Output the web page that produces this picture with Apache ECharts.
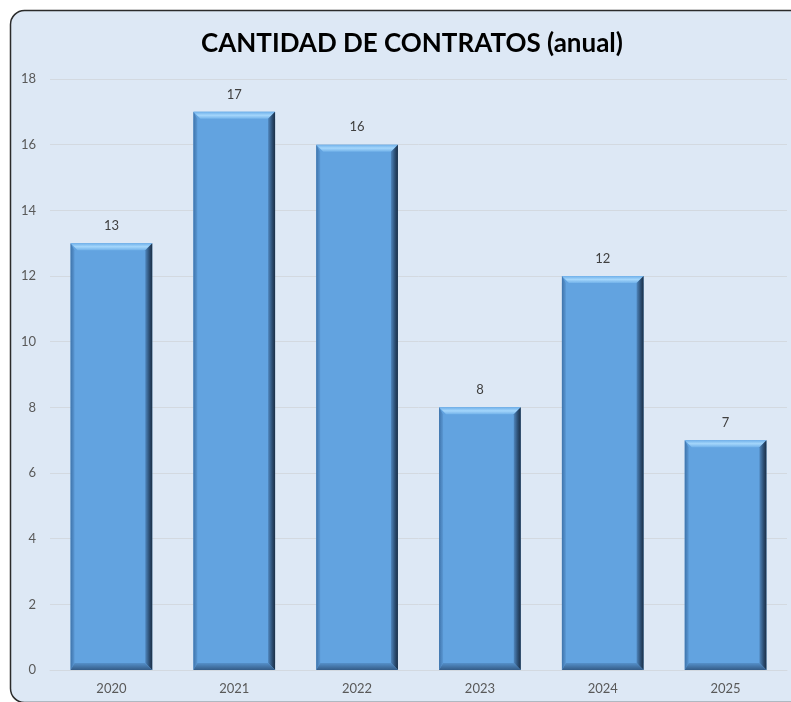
<!DOCTYPE html>
<html>
<head>
<meta charset="utf-8">
<script src="https://cdn.jsdelivr.net/npm/echarts@6/dist/echarts.min.js"></script>
<style>
  html, body { margin: 0; padding: 0; background: #ffffff; }
  #chart { width: 791px; height: 702px; }
</style>
</head>
<body>
<div id="chart"></div>
<script>
const years = ['2020', '2021', '2022', '2023', '2024', '2025']
const contratos = [13, 17, 16, 8, 12, 7]
const yTicks = { min: 0, max: 18, interval: 2 }

const myChart = echarts.init(document.getElementById('chart'))

// barra con efecto biselado (como Excel)
function renderBar (params, api) {
  const idx = api.value(0)
  const val = api.value(1)
  const top = api.coord([idx, val])
  const base = api.coord([idx, 0])
  const w = api.size([1, 0])[0] * 0.665
  const x0 = top[0] - w / 2
  const x1 = top[0] + w / 2
  const y0 = top[1]
  const y1 = base[1]
  const b = 7
  return {
    type: 'group',
    children: [
      { type: 'rect', shape: { x: x0, y: y0, width: w, height: y1 - y0 }, style: { fill: '#62a3e0' } },
      // arriba
      { type: 'polygon', shape: { points: [[x0, y0], [x1, y0], [x1 - b, y0 + b], [x0 + b, y0 + b]] },
        style: { fill: new echarts.graphic.LinearGradient(0, 0, 0, 1, [
          { offset: 0, color: '#6fb0ea' }, { offset: 0.5, color: '#a4d6fb' }, { offset: 1, color: '#72b2ea' }]) } },
      // izquierda
      { type: 'polygon', shape: { points: [[x0, y0], [x0 + b - 3, y0 + b], [x0 + b - 3, y1 - b], [x0, y1]] },
        style: { fill: new echarts.graphic.LinearGradient(0, 0, 1, 0, [
          { offset: 0, color: '#3f74ab' }, { offset: 1, color: '#5a98d4' }]) } },
      // derecha
      { type: 'polygon', shape: { points: [[x1, y0], [x1, y1], [x1 - b, y1 - b], [x1 - b, y0 + b]] },
        style: { fill: new echarts.graphic.LinearGradient(0, 0, 1, 0, [
          { offset: 0, color: '#4f86bd' }, { offset: 0.6, color: '#2b4c70' }, { offset: 1, color: '#1b2f46' }]) } },
      // abajo
      { type: 'polygon', shape: { points: [[x0, y1], [x1, y1], [x1 - b, y1 - b], [x0 + b - 3, y1 - b]] },
        style: { fill: new echarts.graphic.LinearGradient(0, 0, 0, 1, [
          { offset: 0, color: '#5590c9' }, { offset: 1, color: '#345c88' }]) } },
      { type: 'text', style: { text: String(val), x: top[0], y: y0 - 11, align: 'center', verticalAlign: 'bottom',
        fill: '#404040', font: '13px Lato' } }
    ]
  }
}

const option = {
  backgroundColor: '#ffffff',
  graphic: [
    {
      type: 'rect',
      z: -10,
      shape: { x: 10.5, y: 10.5, width: 800, height: 692, r: 14 },
      style: { fill: '#dde8f5', stroke: '#2b2b2b', lineWidth: 1.5 }
    }
  ],
  title: {
    text: 'CANTIDAD DE CONTRATOS (anual)',
    left: 407,
    top: 26,
    textAlign: 'center',
    textStyle: { fontFamily: 'Lato', fontWeight: 'bold', fontSize: 26, color: '#000000' }
  },
  grid: { left: 50, right: 4, top: 79, bottom: 32 },
  xAxis: {
    type: 'category',
    data: years,
    axisLine: { show: true, lineStyle: { color: '#d3d9e0' } },
    axisTick: { show: false },
    axisLabel: { color: '#595959', fontFamily: 'Lato', fontSize: 13, margin: 12 }
  },
  yAxis: {
    type: 'value',
    min: yTicks.min,
    max: yTicks.max,
    interval: yTicks.interval,
    axisLine: { show: false },
    axisTick: { show: false },
    splitLine: { lineStyle: { color: '#d3d9e0' } },
    axisLabel: { color: '#595959', fontFamily: 'Lato', fontSize: 13, margin: 14 }
  },
  series: [
    {
      type: 'custom',
      renderItem: renderBar,
      encode: { x: 0, y: 1 },
      data: contratos.map((v, i) => [i, v])
    }
  ]
}
myChart.setOption(option)
</script>
</body>
</html>
